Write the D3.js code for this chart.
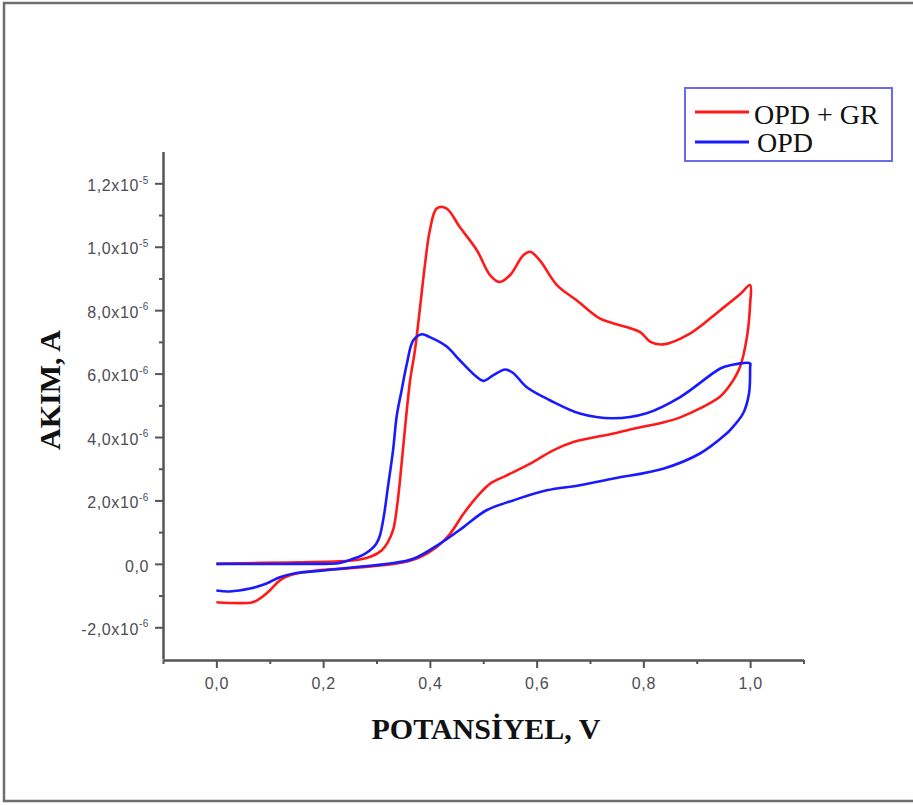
<!DOCTYPE html>
<html>
<head>
<meta charset="utf-8">
<script src="https://cdn.jsdelivr.net/npm/d3@7"></script>
<style>
  html, body { margin: 0; padding: 0; background: #fff; }
  svg { display: block; }
</style>
</head>
<body>
<script>
// potential (V) and current (x1e-6 A)
const grV = [0.0, 0.082, 0.157, 0.231, 0.269, 0.291, 0.310, 0.321, 0.331, 0.338, 0.344, 0.353, 0.363, 0.372, 0.381, 0.391, 0.400, 0.413, 0.431, 0.456, 0.488, 0.513, 0.531, 0.550, 0.575, 0.588, 0.606, 0.638, 0.675, 0.719, 0.743, 0.794, 0.813, 0.837, 0.888, 0.944, 0.981, 1.0,
  1.0, 0.994, 0.981, 0.962, 0.944, 0.906, 0.869, 0.837, 0.775, 0.744, 0.669, 0.631, 0.588, 0.544, 0.513, 0.488, 0.463, 0.438, 0.413, 0.381, 0.338, 0.306, 0.250, 0.188, 0.138, 0.119, 0.100, 0.082, 0.068, 0.0];
const grI = [0.0, 0.03, 0.05, 0.08, 0.14, 0.24, 0.43, 0.68, 1.06, 1.75, 2.63, 4.21, 5.79, 6.73, 8.00, 9.47, 10.52, 11.21, 11.21, 10.62, 9.89, 9.10, 8.89, 9.10, 9.73, 9.84, 9.57, 8.79, 8.31, 7.73, 7.59, 7.31, 7.00, 6.92, 7.27, 8.00, 8.50, 8.79,
  8.20, 7.15, 6.21, 5.63, 5.28, 4.90, 4.62, 4.46, 4.24, 4.11, 3.84, 3.58, 3.16, 2.79, 2.53, 2.11, 1.58, 0.95, 0.53, 0.21, 0.01, -0.05, -0.14, -0.21, -0.36, -0.52, -0.84, -1.09, -1.21, -1.21];

const opdV = [0.0, 0.157, 0.231, 0.256, 0.273, 0.288, 0.299, 0.306, 0.314, 0.321, 0.331, 0.338, 0.347, 0.357, 0.369, 0.385, 0.400, 0.431, 0.456, 0.488, 0.500, 0.519, 0.541, 0.556, 0.581, 0.625, 0.681, 0.743, 0.806, 0.869, 0.944, 0.962, 1.0,
  1.0, 0.998, 0.987, 0.962, 0.956, 0.906, 0.837, 0.744, 0.681, 0.619, 0.556, 0.506, 0.463, 0.419, 0.369, 0.325, 0.263, 0.200, 0.150, 0.119, 0.094, 0.063, 0.025, 0.0];
const opdI = [0.0, 0.0, 0.03, 0.16, 0.27, 0.43, 0.62, 0.87, 1.53, 2.38, 3.58, 4.68, 5.47, 6.32, 7.05, 7.24, 7.15, 6.86, 6.42, 5.89, 5.77, 5.95, 6.13, 6.02, 5.58, 5.16, 4.74, 4.59, 4.75, 5.26, 6.16, 6.26, 6.32,
  6.20, 5.38, 4.75, 4.21, 4.11, 3.48, 3.00, 2.69, 2.48, 2.32, 2.00, 1.69, 1.16, 0.64, 0.16, 0.01, -0.10, -0.21, -0.29, -0.42, -0.62, -0.78, -0.87, -0.84];

const seriesNames = ["OPD + GR", "OPD"];
const seriesColors = ["#ff1a1a", "#1a1aff"];
const xTicks = [0, 0.2, 0.4, 0.6, 0.8, 1.0];
const xMinor = [-0.1, 0.1, 0.3, 0.5, 0.7, 0.9, 1.1];
const yTicks = [-2e-6, 0, 2e-6, 4e-6, 6e-6, 8e-6, 1.0e-5, 1.2e-5];
const yMinor = [-1e-6, 1e-6, 3e-6, 5e-6, 7e-6, 9e-6, 1.1e-5];

const width = 913, height = 805;

const svg = d3.select("body").append("svg")
  .attr("width", width)
  .attr("height", height);

// outer frame
svg.append("rect")
  .attr("x", 4).attr("y", 3)
  .attr("width", 940).attr("height", 798)
  .attr("fill", "none")
  .attr("stroke", "#6f6f6f")
  .attr("stroke-width", 2.5);

const x = d3.scaleLinear().domain([-0.1, 1.1]).range([163, 803.5]);
const y = d3.scaleLinear().domain([-3e-6, 1.3e-5]).range([659, 151.6]);

const axisColor = "#555";

// minor ticks first
const gxMinor = svg.append("g")
  .attr("transform", `translate(0,${y(-3e-6) + 1})`)
  .call(d3.axisBottom(x).tickValues(xMinor).tickSize(4).tickFormat(""));
const gyMinor = svg.append("g")
  .attr("transform", `translate(${x(-0.1)},0)`)
  .call(d3.axisLeft(y).tickValues(yMinor).tickSize(4).tickFormat(""));
[gxMinor, gyMinor].forEach(g => {
  g.select(".domain").remove();
  g.selectAll("line").attr("stroke", axisColor).attr("stroke-width", 2);
});

const gx = svg.append("g")
  .attr("transform", `translate(0,${y(-3e-6) + 1})`)
  .call(d3.axisBottom(x).tickValues(xTicks).tickSize(8).tickSizeOuter(0).tickPadding(10)
    .tickFormat(d => d3.format(".1f")(d).replace(".", ",")));

const gy = svg.append("g")
  .attr("transform", `translate(${x(-0.1)},0)`)
  .call(d3.axisLeft(y).tickValues(yTicks).tickSize(8).tickSizeOuter(0).tickPadding(16).tickFormat(""));

[gx, gy].forEach(g => {
  g.select(".domain").attr("stroke", axisColor).attr("stroke-width", 2.5);
  g.selectAll("line").attr("stroke", axisColor).attr("stroke-width", 2);
  g.selectAll("text")
    .attr("fill", "#4d4d55")
    .style("font-family", "'Liberation Sans', Arial, sans-serif")
    .style("font-size", "16px")
    .style("letter-spacing", "0.6px");
});

// y labels as mantissa x10 with superscript exponent
gy.selectAll(".tick text").each(function(d) {
  const t = d3.select(this).attr("dy", "0.45em");
  if (d === 0) { t.text("0,0"); return; }
  const [m, e] = d.toExponential(1).split("e");
  t.text(m.replace(".", ",") + "x10");
  t.append("tspan")
    .attr("dy", "-0.75em")
    .style("font-size", "10px")
    .text(e);
});
gy.selectAll(".tick text").attr("x", -14);

// curves
const line = d3.line()
  .x(d => x(d[0]))
  .y(d => y(d[1] * 1e-6))
  .curve(d3.curveCatmullRom.alpha(0.5));

const grData = d3.zip(grV, grI);
const opdData = d3.zip(opdV, opdI);

svg.append("path")
  .datum(grData)
  .attr("d", line)
  .attr("fill", "none")
  .attr("stroke", seriesColors[0])
  .attr("stroke-width", 2.6)
  .attr("stroke-linejoin", "round");

svg.append("path")
  .datum(opdData)
  .attr("d", line)
  .attr("fill", "none")
  .attr("stroke", seriesColors[1])
  .attr("stroke-width", 2.6)
  .attr("stroke-linejoin", "round");

// axis titles
svg.append("text")
  .attr("x", 486).attr("y", 739)
  .attr("text-anchor", "middle")
  .style("font-family", "'Liberation Serif', 'Times New Roman', serif")
  .style("font-weight", "bold")
  .style("font-size", "30px")
  .attr("fill", "#111")
  .text("POTANSİYEL, V");

svg.append("text")
  .attr("transform", "translate(60,390) rotate(-90)")
  .attr("text-anchor", "middle")
  .style("font-family", "'Liberation Serif', 'Times New Roman', serif")
  .style("font-weight", "bold")
  .style("font-size", "30px")
  .attr("fill", "#111")
  .text("AKIM, A");

// legend
const legend = svg.append("g");
legend.append("rect")
  .attr("x", 685).attr("y", 88)
  .attr("width", 207).attr("height", 73)
  .attr("fill", "#fff")
  .attr("stroke", "#6b6be6")
  .attr("stroke-width", 2);

seriesNames.forEach((name, i) => {
  const ly = 112 + i * 30;
  legend.append("line")
    .attr("x1", 695).attr("x2", 749)
    .attr("y1", ly).attr("y2", ly)
    .attr("stroke", seriesColors[i])
    .attr("stroke-width", 3);
  legend.append("text")
    .attr("x", i === 0 ? 754 : 757).attr("y", ly + 12 + (i === 1 ? -2 : 0))
    .style("font-family", "'Liberation Serif', 'Times New Roman', serif")
    .style("font-size", "28px")
    .attr("fill", "#111")
    .text(name);
});
</script>
</body>
</html>
